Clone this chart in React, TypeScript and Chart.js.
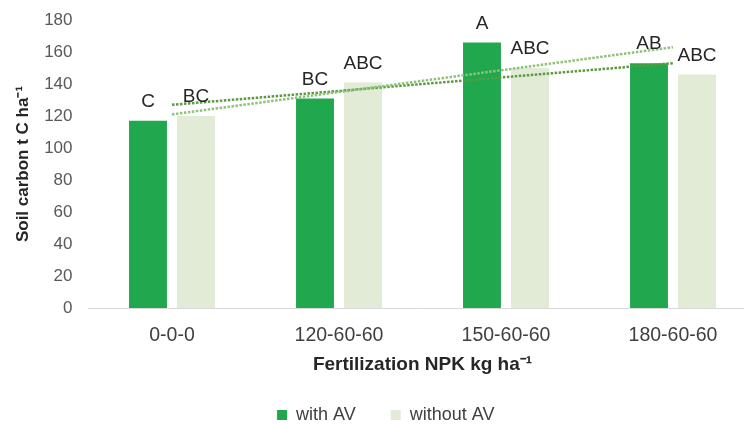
import React, { useEffect, useRef } from "react";
import { Chart, registerables } from "chart.js";

Chart.register(...registerables);

const categories = ["0-0-0", "120-60-60", "150-60-60", "180-60-60"];
const withAV = [117, 131, 166, 153];
const withoutAV = [120, 141, 150, 146];
const lettersWithAV = ["C", "BC", "A", "AB"];
const lettersWithoutAV = ["BC", "ABC", "ABC", "ABC"];
// trend-line end points (first and last category)
const trendWithAV = [121, null, null, 163];
const trendWithoutAV = [127, null, null, 153];
const yMin = 0;
const yMax = 180;
const yStep = 20;

const FONT = '"Liberation Sans", Arial, sans-serif';

const letterPlugin = {
  id: "letters",
  afterDatasetsDraw(chart: any) {
    const ctx = chart.ctx;
    ctx.save();
    ctx.font = `19px ${FONT}`;
    ctx.fillStyle = "#262626";
    ctx.textAlign = "center";
    ctx.textBaseline = "middle";
    [lettersWithAV, lettersWithoutAV].forEach((letters, di) => {
      const meta = chart.getDatasetMeta(di);
      meta.data.forEach((el: any, i: number) => {
        ctx.fillText(letters[i], el.x, el.y - 19);
      });
    });
    ctx.restore();
  },
};

export default function App() {
  const ref = useRef<HTMLCanvasElement | null>(null);

  useEffect(() => {
    if (!ref.current) return;
    const chart = new Chart(ref.current, {
      type: "bar",
      data: {
        labels: categories,
        datasets: [
          {
            label: "with AV",
            data: withAV,
            backgroundColor: "#21a84f",
            barPercentage: 0.79,
            categoryPercentage: 0.575,
            order: 2,
          },
          {
            label: "without AV",
            data: withoutAV,
            backgroundColor: "#e2ebd6",
            barPercentage: 0.79,
            categoryPercentage: 0.575,
            order: 2,
          },
          {
            type: "line",
            label: "trend with AV",
            data: trendWithAV,
            borderColor: "#8fc278",
            borderWidth: 2.5,
            borderDash: [2.5, 1.5],
            pointRadius: 0,
            spanGaps: true,
            fill: false,
            order: 1,
          } as any,
          {
            type: "line",
            label: "trend without AV",
            data: trendWithoutAV,
            borderColor: "#5a9a40",
            borderWidth: 2.5,
            borderDash: [2.5, 1.5],
            pointRadius: 0,
            spanGaps: true,
            fill: false,
            order: 1,
          } as any,
        ],
      },
      options: {
        responsive: false,
        animation: false,
        layout: { padding: { left: 15, right: 15.5, top: 20, bottom: 0 } },
        plugins: {
          tooltip: { enabled: false },
          legend: {
            position: "bottom",
            labels: {
              filter: (item: any) => item.datasetIndex < 2,
              boxWidth: 10,
              boxHeight: 10,
              padding: 35,
              color: "#404040",
              font: { family: FONT, size: 18 },
            },
          },
        },
        scales: {
          x: {
            grid: { display: true, drawOnChartArea: false, drawTicks: false },
            border: { display: true, color: "#d9d9d9", width: 1 },
            ticks: { padding: 16, color: "#404040", font: { family: FONT, size: 19.5 } },
            title: {
              display: true,
              text: "Fertilization NPK kg ha\u207B\u00B9",
              color: "#262626",
              font: { family: FONT, size: 19, weight: "bold" },
              padding: { top: 0, bottom: -5 },
            },
            afterFit: (scale: any) => {
              scale.height = 63;
            },
          },
          y: {
            min: yMin,
            max: yMax,
            grid: { display: false, drawTicks: false },
            border: { display: false },
            ticks: {
              stepSize: yStep,
              padding: 16,
              color: "#595959",
              font: { family: FONT, size: 17 },
            },
            title: {
              display: true,
              text: "Soil carbon t C ha\u207B\u00B9",
              color: "#262626",
              font: { family: FONT, size: 17, weight: "bold" },
              padding: { top: -2, bottom: 0 },
            },
            afterFit: (scale: any) => {
              scale.width = 73.5;
              scale.paddingTop = 10;
              scale.paddingBottom = 10;
            },
          },
        },
      },
      plugins: [letterPlugin],
    });
    return () => chart.destroy();
  }, []);

  return (
    <div
      style={{
        position: "fixed",
        left: 0,
        top: 0,
        width: 744,
        height: 424,
        overflow: "hidden",
        background: "#ffffff",
      }}
    >
      <canvas ref={ref} width={772} height={434} style={{ display: "block" }} />
    </div>
  );
}
